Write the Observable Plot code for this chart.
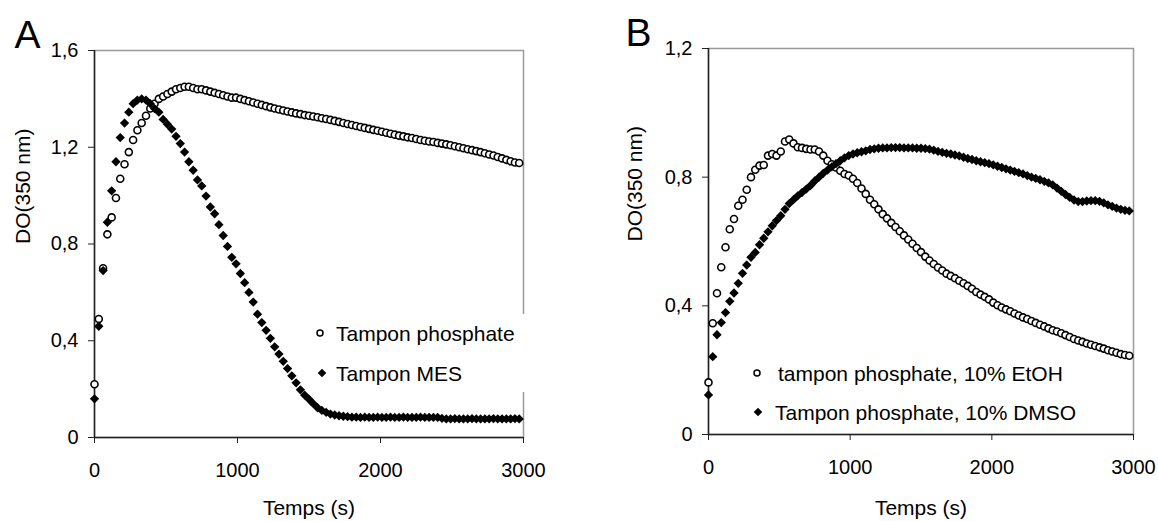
<!DOCTYPE html>
<html>
<head>
<meta charset="utf-8">
<script src="https://cdn.jsdelivr.net/npm/d3@7"></script>
<script src="https://cdn.jsdelivr.net/npm/@observablehq/plot@0.6"></script>
<style>
  html, body { margin: 0; padding: 0; background: #fff; }
  #wrap { position: relative; width: 1158px; height: 521px; overflow: hidden; font-family: 'Liberation Sans', Arial, sans-serif; }
  #wrap > .panel { position: absolute; top: 0; }
  #legend { position: absolute; left: 0; top: 0; pointer-events: none; }
</style>
</head>
<body>
<div id="wrap">
  <div class="panel" id="pa" style="left:0"></div>
  <div class="panel" id="pb" style="left:579px"></div>
</div>
<script>
// ---- data ----
const timeSec = [0,30,60,90,120,150,180,210,240,270,300,330,360,390,420,450,480,510,540,570,600,630,660,690,720,750,780,810,840,870,900,930,960,990,1020,1050,1080,1110,1140,1170,1200,1230,1260,1290,1320,1350,1380,1410,1440,1470,1500,1530,1560,1590,1620,1650,1680,1710,1740,1770,1800,1830,1860,1890,1920,1950,1980,2010,2040,2070,2100,2130,2160,2190,2220,2250,2280,2310,2340,2370,2400,2430,2460,2490,2520,2550,2580,2610,2640,2670,2700,2730,2760,2790,2820,2850,2880,2910,2940,2970];

// Panel A
const phosphateA = [0.22,0.49,0.70,0.84,0.91,0.99,1.07,1.13,1.18,1.23,
  1.27,1.30,1.33,1.36,1.38,1.40,1.41,1.42,1.43,1.44,
  1.445,1.45,1.45,1.445,1.44,1.44,1.435,1.43,1.425,1.42,
  1.415,1.41,1.405,1.405,1.40,1.395,1.39,1.385,1.38,1.375,
  1.37,1.365,1.36,1.356,1.352,1.348,1.344,1.34,1.337,1.333,
  1.33,1.327,1.324,1.32,1.317,1.313,1.309,1.305,1.30,1.296,
  1.292,1.288,1.284,1.28,1.276,1.272,1.268,1.264,1.26,1.256,
  1.252,1.248,1.245,1.241,1.238,1.234,1.23,1.227,1.224,1.222,
  1.218,1.215,1.212,1.208,1.204,1.20,1.196,1.192,1.188,1.184,
  1.18,1.175,1.17,1.166,1.16,1.154,1.148,1.142,1.137,1.135];
const mesA = [0.16,0.46,0.69,0.89,1.02,1.14,1.24,1.30,1.345,1.38,
  1.395,1.40,1.395,1.38,1.36,1.345,1.315,1.295,1.275,1.245,
  1.215,1.18,1.14,1.105,1.065,1.04,0.998,0.953,0.925,0.88,
  0.835,0.79,0.745,0.718,0.678,0.64,0.60,0.56,0.51,0.475,
  0.443,0.41,0.375,0.345,0.315,0.285,0.255,0.226,0.197,0.175,
  0.158,0.14,0.123,0.112,0.104,0.097,0.093,0.09,0.088,0.086,
  0.084,0.084,0.083,0.084,0.083,0.083,0.084,0.083,0.083,0.084,
  0.083,0.083,0.084,0.083,0.083,0.083,0.084,0.083,0.083,0.083,
  0.083,0.079,0.077,0.077,0.078,0.077,0.077,0.077,0.078,0.077,
  0.077,0.077,0.077,0.078,0.077,0.077,0.077,0.077,0.078,0.077];

// Panel B
const etohB = [0.162,0.346,0.439,0.52,0.582,0.638,0.67,0.711,0.73,0.761,
  0.80,0.823,0.836,0.838,0.867,0.872,0.867,0.88,0.911,0.917,
  0.905,0.893,0.891,0.888,0.886,0.886,0.88,0.867,0.851,0.84,
  0.83,0.82,0.81,0.805,0.795,0.782,0.765,0.748,0.73,0.716,
  0.70,0.685,0.672,0.658,0.645,0.632,0.619,0.606,0.593,0.58,
  0.567,0.553,0.541,0.53,0.519,0.51,0.50,0.493,0.486,0.478,
  0.47,0.462,0.453,0.443,0.435,0.428,0.42,0.41,0.402,0.395,
  0.389,0.383,0.376,0.37,0.364,0.359,0.353,0.347,0.341,0.336,
  0.33,0.324,0.32,0.315,0.309,0.303,0.297,0.292,0.288,0.283,
  0.279,0.275,0.271,0.267,0.262,0.258,0.254,0.25,0.247,0.245];
const dmsoB = [0.123,0.242,0.31,0.348,0.379,0.414,0.44,0.47,0.501,0.527,
  0.551,0.566,0.59,0.61,0.63,0.649,0.665,0.68,0.70,0.718,
  0.73,0.742,0.752,0.763,0.774,0.788,0.80,0.812,0.822,0.832,
  0.842,0.851,0.86,0.867,0.872,0.876,0.879,0.882,0.886,0.888,
  0.89,0.891,0.891,0.892,0.892,0.892,0.891,0.891,0.891,0.89,
  0.89,0.889,0.887,0.884,0.88,0.877,0.874,0.872,0.869,0.866,
  0.862,0.858,0.855,0.851,0.848,0.845,0.842,0.838,0.834,0.83,
  0.826,0.822,0.818,0.814,0.81,0.805,0.80,0.796,0.792,0.787,
  0.782,0.776,0.766,0.756,0.746,0.737,0.729,0.724,0.724,0.726,
  0.727,0.727,0.725,0.72,0.714,0.709,0.704,0.70,0.697,0.695];

const xTicks = [0, 1000, 2000, 3000];
const yTicksA = [0, 0.4, 0.8, 1.2, 1.6];
const yTicksB = [0, 0.4, 0.8, 1.2];
const seriesNamesA = ["Tampon phosphate", "Tampon MES"];
const seriesNamesB = ["tampon phosphate, 10% EtOH", "Tampon phosphate, 10% DMSO"];
const panelLetters = ["A", "B"];
const xLabel = "Temps (s)";
const yLabel = "DO(350 nm)";

// ---- drawing ----
const fmtComma = d => d === 0 ? "0" : d.toFixed(1).replace(".", ",");
const toRows = vals => vals.map((v, i) => ({t: timeSec[i], v}));
const FONT = "'Liberation Sans', Arial, sans-serif";

function panel({open, filled, yMax, yTicks, letter, m}) {
  return Plot.plot({
    width: 579,
    height: 521,
    marginLeft: m.left,
    marginRight: m.right,
    marginTop: m.top,
    marginBottom: m.bottom,
    style: {fontFamily: FONT, fontSize: "20px", color: "#000", background: "transparent", overflow: "visible"},
    x: {domain: [0, 3000]},
    y: {domain: [0, yMax]},
    marks: [
      Plot.frame({stroke: "#999", strokeWidth: 1.5}),
      Plot.axisX({ticks: xTicks, tickSize: 6, tickPadding: 19, tickFormat: d => String(d), label: null, stroke: "#222", fontSize: 20}),
      Plot.axisY({ticks: yTicks, tickSize: 6, tickPadding: 10, tickFormat: fmtComma, label: null, stroke: "#222", fontSize: 20}),
      Plot.ruleX([0], {stroke: "#222", strokeWidth: 1.5}),
      Plot.ruleY([0], {stroke: "#222", strokeWidth: 1.5}),
      Plot.dot(toRows(open), {x: "t", y: "v", r: 3.5, fill: "white", stroke: "black", strokeWidth: 1.6}),
      Plot.dot(toRows(filled), {x: "t", y: "v", symbol: "diamond2", r: 4.2, fill: "black", stroke: "none"}),
      Plot.text([xLabel], {frameAnchor: "bottom", lineAnchor: "middle", dy: m.xLabelDy, fontSize: 21}),
      Plot.text([yLabel], {frameAnchor: "left", lineAnchor: "middle", rotate: -90, dx: m.yLabelDx, fontSize: 21}),
      Plot.text([letter], {frameAnchor: "top-left", textAnchor: "start", lineAnchor: "middle", dx: m.letterDx, dy: -15, fontSize: 39})
    ]
  });
}

const plotA = panel({open: phosphateA, filled: mesA, yMax: 1.6, yTicks: yTicksA, letter: panelLetters[0],
  m: {left: 94, right: 56, top: 50, bottom: 84, xLabelDy: 71, yLabelDx: -71, letterDx: -80}});
const plotB = panel({open: etohB, filled: dmsoB, yMax: 1.2, yTicks: yTicksB, letter: panelLetters[1],
  m: {left: 129, right: 25, top: 48, bottom: 87, xLabelDy: 74, yLabelDx: -73, letterDx: -83}});
document.getElementById("pa").appendChild(plotA);
document.getElementById("pb").appendChild(plotB);

// ---- legends (overlay) ----
const ns = "http://www.w3.org/2000/svg";
const lg = document.createElementNS(ns, "svg");
lg.setAttribute("id", "legend");
lg.setAttribute("width", 1158);
lg.setAttribute("height", 521);
function el(tag, attrs, text) {
  const e = document.createElementNS(ns, tag);
  for (const k in attrs) e.setAttribute(k, attrs[k]);
  if (text) e.textContent = text;
  lg.appendChild(e);
  return e;
}
const diamond = (cx, cy, h) => `M${cx},${cy - h}L${cx + h},${cy}L${cx},${cy + h}L${cx - h},${cy}Z`;
const tStyle = {"font-family": FONT, "font-size": 21, fill: "#000"};
// Legend A (white box hides the frame behind it)
el("rect", {x: 311, y: 314, width: 214, height: 78, fill: "white"});
el("circle", {cx: 320, cy: 333, r: 3, fill: "white", stroke: "black", "stroke-width": 1.5});
el("text", {...tStyle, x: 336, y: 340.5}, seriesNamesA[0]);
el("path", {d: diamond(322, 373, 4.3), fill: "black"});
el("text", {...tStyle, x: 336, y: 380.5}, seriesNamesA[1]);
// Legend B
el("circle", {cx: 757, cy: 373, r: 3, fill: "white", stroke: "black", "stroke-width": 1.5});
el("text", {...tStyle, x: 778, y: 380.5}, seriesNamesB[0]);
el("path", {d: diamond(758, 412, 4.3), fill: "black"});
el("text", {...tStyle, x: 775, y: 419.5}, seriesNamesB[1]);
document.getElementById("wrap").appendChild(lg);
</script>
</body>
</html>
